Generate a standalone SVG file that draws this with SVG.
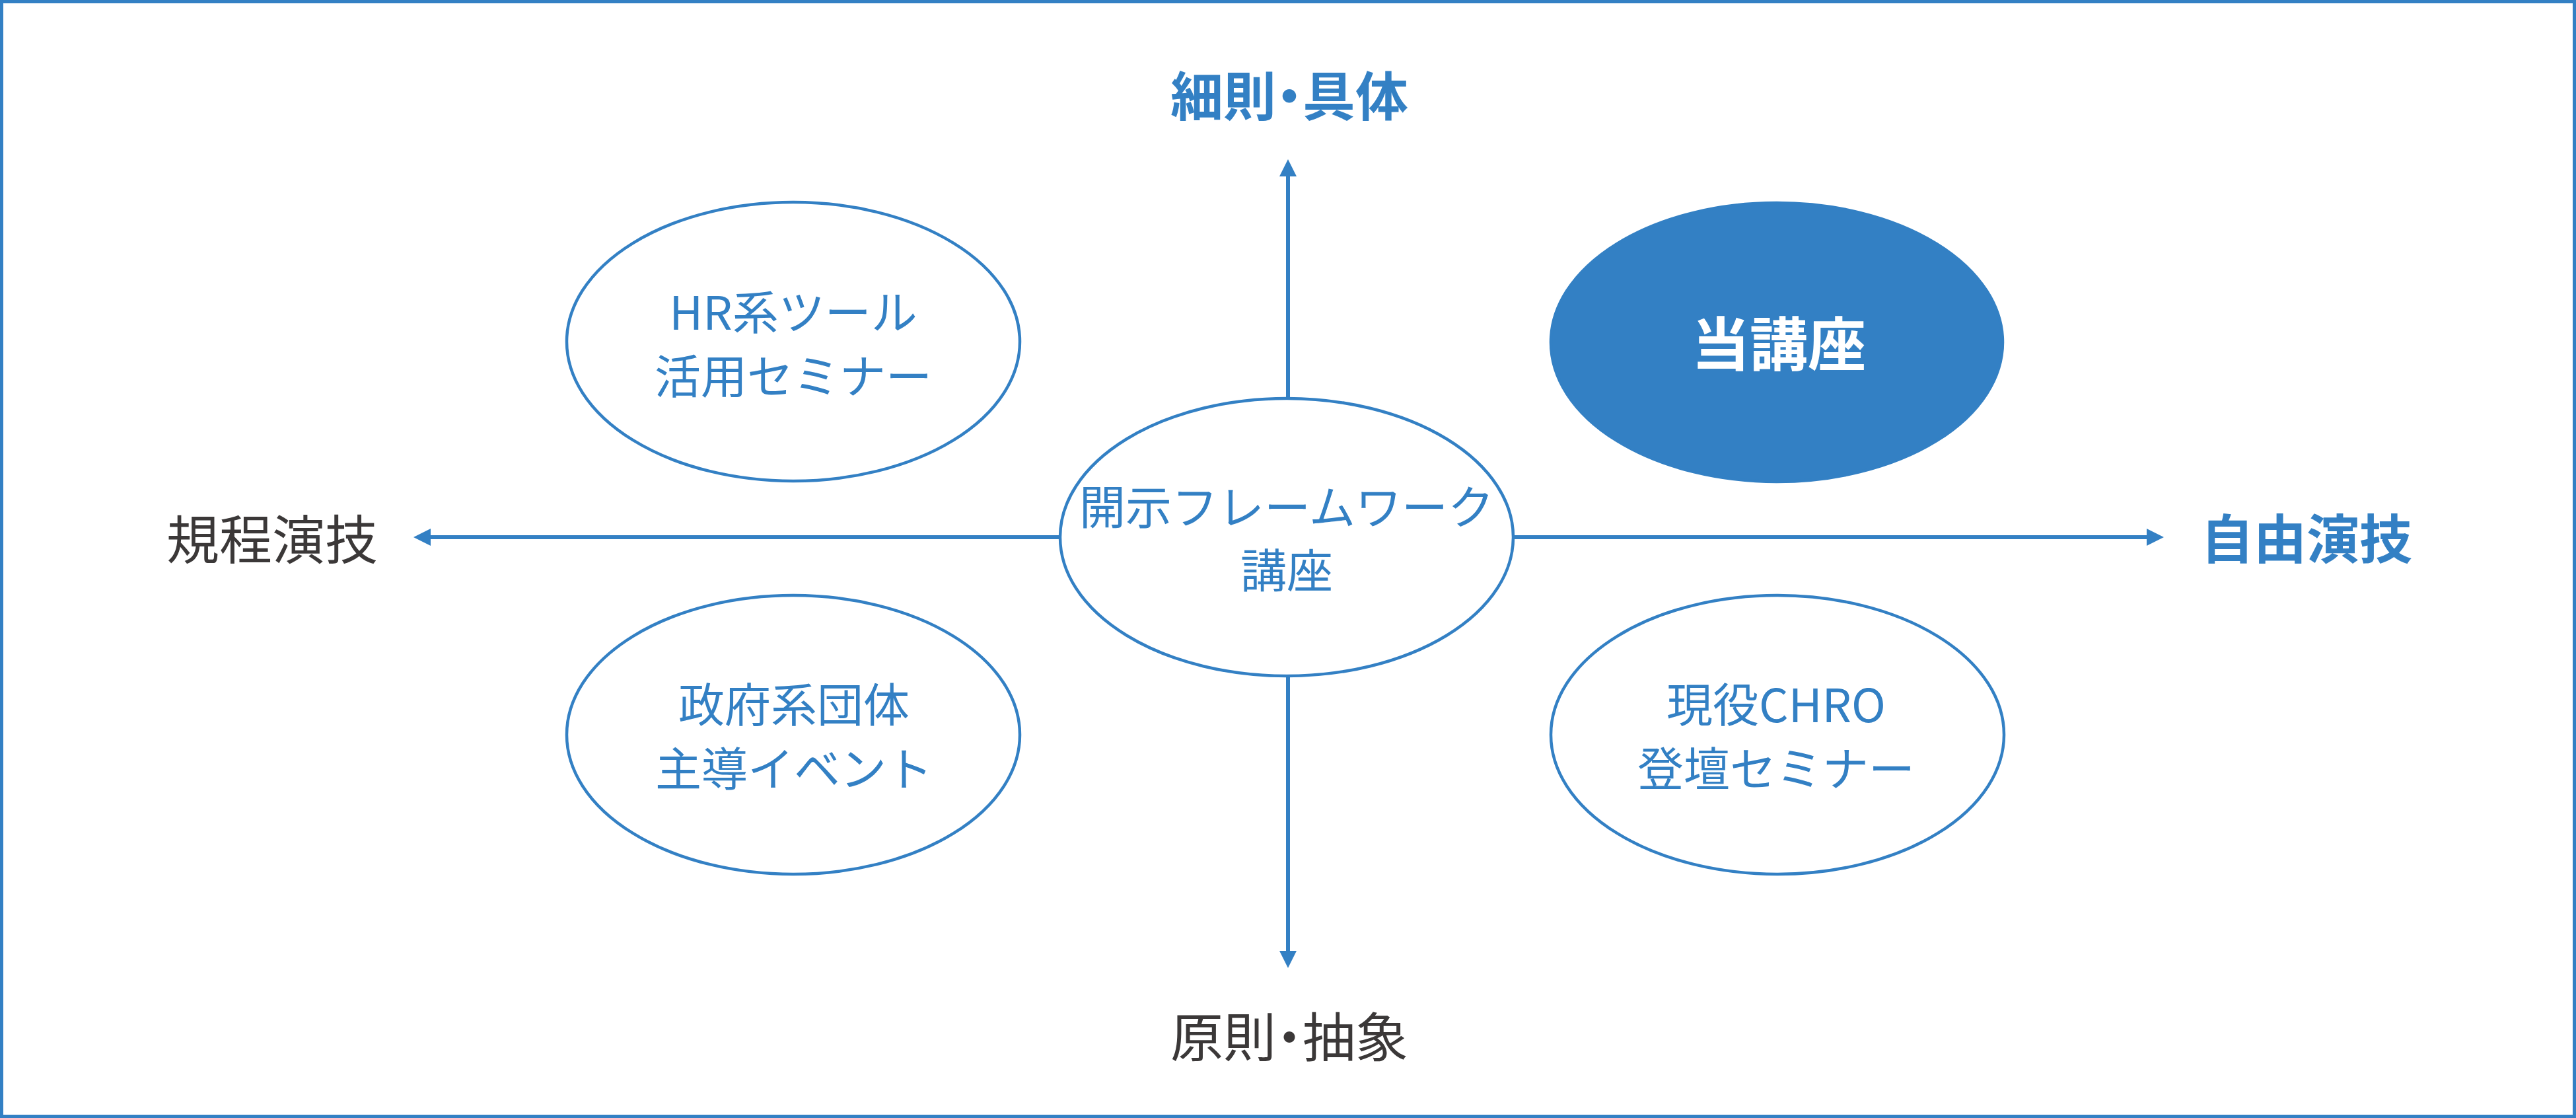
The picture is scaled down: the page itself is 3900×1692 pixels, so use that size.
<svg xmlns="http://www.w3.org/2000/svg" width="3900" height="1692" viewBox="0 0 3900 1692">
<style>
.t{font-family:"Noto Sans CJK JP","Noto Sans",sans-serif;text-anchor:middle}
.body{font-size:70px;fill:#3380C4}
.axb{font-size:80px;font-weight:700;fill:#3380C4;font-feature-settings:"palt"}
.axr{font-size:80px;fill:#3B3838;font-feature-settings:"palt"}
.ell{fill:#FFFFFF;stroke:#3380C4;stroke-width:4.5}
.fill{fill:#3380C4;stroke:#3380C4;stroke-width:4.5}
.ax{stroke:#3380C4;stroke-width:6;fill:none;marker-end:url(#ah)}
</style>
<defs>
<marker id="ah" markerUnits="userSpaceOnUse" markerWidth="28" markerHeight="28" refX="2" refY="13" orient="auto">
<path d="M0,0 L26,13 L0,26 Z" fill="#3380C4"/>
</marker>
</defs>
<rect x="2.5" y="2.5" width="3895" height="1687" fill="#FFFFFF" stroke="#3380C4" stroke-width="5"/>
<g id="connectors">
<line class="ax" x1="1950" y1="603" x2="1950" y2="265"/>
<line class="ax" x1="1950" y1="1022" x2="1950" y2="1441"/>
<line class="ax" x1="1605" y1="813" x2="650" y2="813"/>
<line class="ax" x1="2290" y1="813" x2="3252" y2="813"/>
</g>
<g id="label-top"><text class="t axb" x="1952" y="175">細則・具体</text></g>
<g id="label-bottom"><text class="t axr" x="1952" y="1599">原則・抽象</text></g>
<g id="label-left"><text class="t axr" x="412" y="846">規程演技</text></g>
<g id="label-right"><text class="t axb" x="3492" y="845">自由演技</text></g>
<g id="node-hr">
<ellipse class="ell" cx="1201" cy="517" rx="343" ry="211"/>
<text class="t body" x="1201" y="499">HR系ツール</text>
<text class="t body" x="1201" y="596">活用セミナー</text>
</g>
<g id="node-this">
<ellipse class="fill" cx="2690" cy="518" rx="342" ry="211"/>
<text class="t" x="2693" y="553" style="font-size:88px;font-weight:700;fill:#FFFFFF">当講座</text>
</g>
<g id="node-center">
<ellipse class="ell" cx="1948" cy="813" rx="343" ry="210"/>
<text class="t body" x="1948" y="794">開示フレームワーク</text>
<text class="t body" x="1948" y="890">講座</text>
</g>
<g id="node-gov">
<ellipse class="ell" cx="1201" cy="1112" rx="343" ry="211"/>
<text class="t body" x="1202" y="1093">政府系団体</text>
<text class="t body" x="1202" y="1190">主導イベント</text>
</g>
<g id="node-chro">
<ellipse class="ell" cx="2691" cy="1112" rx="343" ry="211"/>
<text class="t body" x="2689" y="1093">現役CHRO</text>
<text class="t body" x="2689" y="1190">登壇セミナー</text>
</g>
</svg>
